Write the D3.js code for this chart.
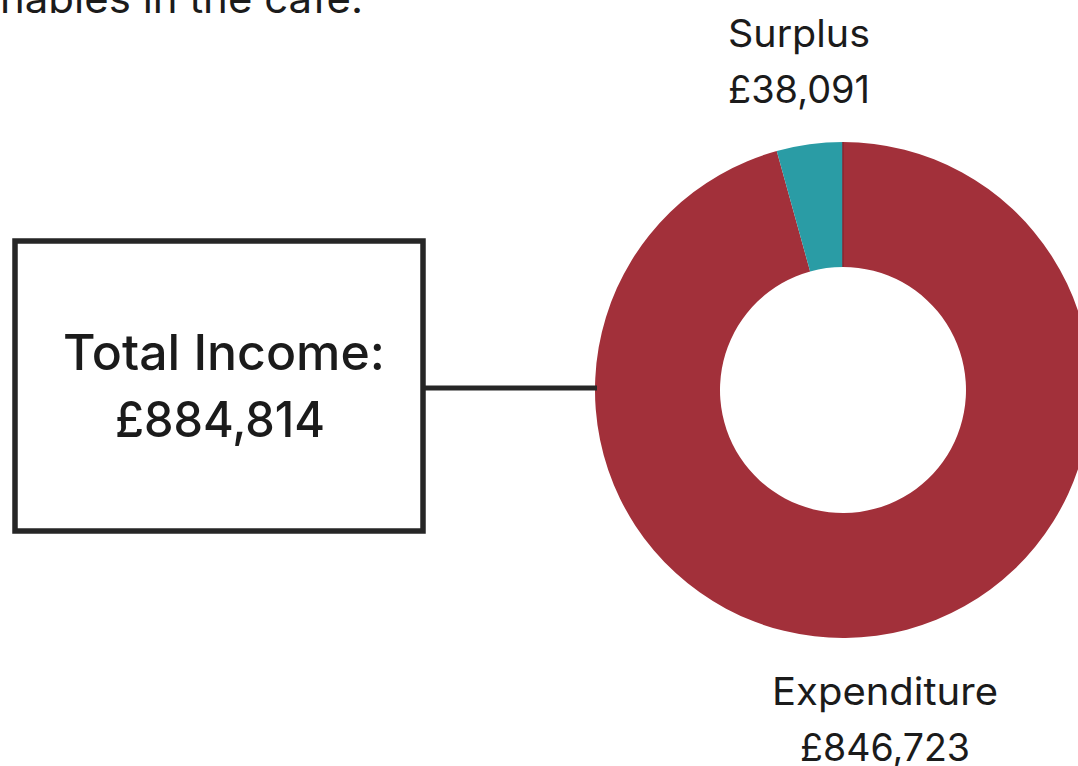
<!DOCTYPE html>
<html>
<head>
<meta charset="utf-8">
<script src="https://cdn.jsdelivr.net/npm/d3@7"></script>
<style>
  html, body { margin: 0; padding: 0; background: #fff; }
  svg { display: block; }
  text { font-family: "Inter", "Noto Sans", sans-serif; fill: #1b1b1b; }
</style>
</head>
<body>
<svg id="chart" width="1078" height="766"></svg>
<script>
// Income split for the year
const categories = ["Expenditure", "Surplus"];
const values = [846723, 38091];
const sliceColors = ["#a2303a", "#2a9ca5"];
const totalLabel = "Total Income:";
const introTail = "nables in the cafe.";

const W = 1078, H = 766;
const svg = d3.select("#chart");

const cx = 843, cy = 390;
const outerR = 248, innerR = 123;

const fmt = v => "£" + d3.format(",")(v);
const total = d3.sum(values);

// tail of the paragraph above the chart
svg.append("text")
  .attr("x", 0).attr("y", 13)
  .attr("font-size", 40)
  .attr("textLength", 363).attr("lengthAdjust", "spacingAndGlyphs")
  .text(introTail);

// donut
const pie = d3.pie().sort(null).value(d => d.value);
const arc = d3.arc().innerRadius(innerR).outerRadius(outerR);
const data = categories.map((c, i) => ({ name: c, value: values[i], color: sliceColors[i] }));
const g = svg.append("g").attr("transform", `translate(${cx},${cy})`);
g.selectAll("path")
  .data(pie(data))
  .join("path")
  .attr("d", arc)
  .attr("fill", d => d.data.color);

// thin seam at 12 o'clock
g.append("line")
  .attr("x1", 0).attr("y1", -innerR).attr("x2", 0).attr("y2", -outerR)
  .attr("stroke", "#8a2630").attr("stroke-width", 1.5);

// slice labels
function label(x, yTop, name, value, w1, w2, size) {
  svg.append("text").attr("x", x).attr("y", yTop)
    .attr("text-anchor", "middle").attr("font-size", size)
    .attr("textLength", w1).attr("lengthAdjust", "spacingAndGlyphs")
    .text(name);
  svg.append("text").attr("x", x).attr("y", yTop + 56)
    .attr("text-anchor", "middle").attr("font-size", size)
    .attr("textLength", w2).attr("lengthAdjust", "spacingAndGlyphs")
    .text(fmt(value));
}
label(799, 47, categories[1], values[1], 142, 142, 38);
label(885, 705, categories[0], values[0], 226, 170, 38);

// total income box and connector
const box = { x: 15, y: 241, w: 408, h: 290 };
svg.append("rect")
  .attr("x", box.x).attr("y", box.y).attr("width", box.w).attr("height", box.h)
  .attr("fill", "none").attr("stroke", "#262626").attr("stroke-width", 5.5);
svg.append("line")
  .attr("x1", box.x + box.w).attr("x2", cx - outerR + 2)
  .attr("y1", 388).attr("y2", 388)
  .attr("stroke", "#262626").attr("stroke-width", 5);

const bx = box.x + box.w / 2 + 5;
svg.append("text").attr("x", bx).attr("y", 370)
  .attr("text-anchor", "middle").attr("font-size", 50).attr("font-weight", 500)
  .attr("textLength", 322).attr("lengthAdjust", "spacingAndGlyphs")
  .text(totalLabel);
svg.append("text").attr("x", bx - 4).attr("y", 437)
  .attr("text-anchor", "middle").attr("font-size", 50).attr("font-weight", 500)
  .attr("textLength", 210).attr("lengthAdjust", "spacingAndGlyphs")
  .text(fmt(total));
</script>
</body>
</html>
